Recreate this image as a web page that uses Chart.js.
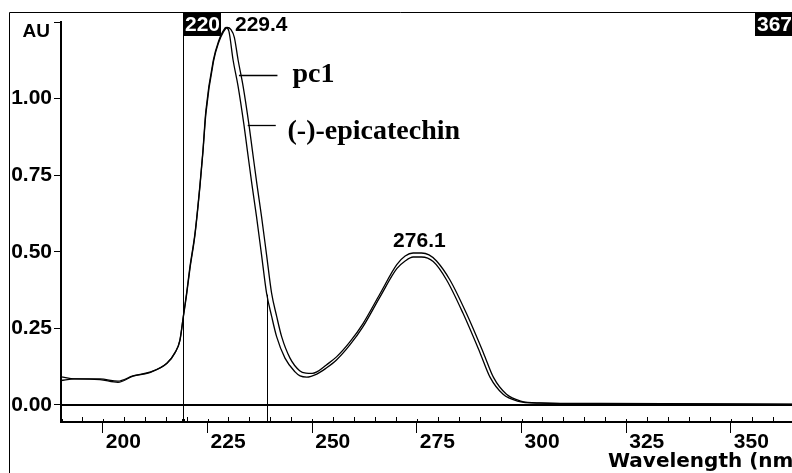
<!DOCTYPE html>
<html><head><meta charset="utf-8">
<script src="https://cdn.jsdelivr.net/npm/chart.js@4.4.1/dist/chart.umd.min.js"></script>
<style>html,body{margin:0;padding:0;background:#fff;overflow:hidden}#wrap{position:relative;width:792px;height:473px}</style>
</head><body><div id="wrap"><canvas id="c" width="792" height="473"></canvas></div>
<script>
// (-)-epicatechin spectrum (inner trace)
const wavelengthA = [190.0,193.3,199.3,203.6,207.2,211.2,215.3,217.2,218.4,219.2,220.0,220.8,222.0,223.2,223.9,224.6,226.4,227.7,228.7,229.4,230.1,231.1,232.3,233.7,234.5,235.6,236.7,237.9,239.1,240.3,241.5,243.5,245.9,247.1,248.7,251.1,253.3,255.8,259.0,262.1,266.2,270.2,272.2,274.1,276.1,278.9,282.1,286.0,290.1,292.5,295.6,299.0,304.4,318.7,364.6];
const absorbanceA = [0.092,0.085,0.085,0.078,0.095,0.107,0.136,0.170,0.212,0.288,0.365,0.451,0.560,0.720,0.830,0.960,1.126,1.190,1.220,1.232,1.220,1.126,1.040,0.914,0.832,0.720,0.615,0.490,0.365,0.290,0.223,0.153,0.108,0.095,0.091,0.101,0.120,0.147,0.196,0.255,0.353,0.445,0.470,0.483,0.483,0.468,0.408,0.300,0.170,0.090,0.035,0.013,0.006,0.004,0.002];
// pc1 spectrum (outer trace)
const wavelengthB = [190.0,193.3,199.3,203.6,207.2,211.2,215.3,217.2,218.4,219.2,220.0,220.8,222.0,223.2,223.9,224.6,226.4,227.7,228.7,229.7,230.6,231.4,232.3,233.5,234.9,235.7,236.8,237.9,239.1,240.3,241.5,242.7,244.7,247.0,248.5,250.0,251.1,253.3,255.8,259.0,262.1,266.2,270.2,272.2,274.1,276.1,277.9,279.7,282.9,286.8,290.9,293.3,296.4,299.8,304.4,318.7,364.6];
const absorbanceB = [0.080,0.085,0.083,0.074,0.094,0.106,0.136,0.170,0.210,0.285,0.360,0.445,0.555,0.715,0.825,0.950,1.120,1.185,1.215,1.232,1.225,1.200,1.126,1.040,0.914,0.832,0.720,0.615,0.490,0.365,0.290,0.223,0.153,0.112,0.104,0.103,0.108,0.130,0.157,0.206,0.265,0.363,0.458,0.486,0.496,0.496,0.490,0.470,0.408,0.300,0.170,0.090,0.035,0.013,0.007,0.005,0.003];

const seriesNames = ['pc1', '(-)-epicatechin'];
const xTickValues = [200, 225, 250, 275, 300, 325, 350];
const yTickValues = [0, 0.25, 0.5, 0.75, 1.0];
const yTickLabels = ['0.00', '0.25', '0.50', '0.75', '1.00'];
const yUnitLabel = 'AU';
const xTitle = 'Wavelength (nm)';
const cursorWavelengths = [219.1, 239.1];
const cursorLabels = ['220', '367'];
const peakWavelengths = [229.4, 276.1];
const peakLabels = ['229.4', '276.1'];

const NUMFONT = 'bold 21px "Liberation Sans", Arial, sans-serif';

const annot = {
  id: 'annot',
  beforeDatasetsDraw(chart) {
    const {ctx, chartArea: a, scales: {x, y}} = chart;
    ctx.save();
    ctx.strokeStyle = '#000';
    ctx.lineWidth = 2;
    const y0 = Math.round(y.getPixelForValue(0));
    ctx.beginPath(); ctx.moveTo(a.left, y0); ctx.lineTo(a.right, y0); ctx.stroke();
    ctx.lineWidth = 1;
    const c1 = Math.round(x.getPixelForValue(cursorWavelengths[0])) + 0.5;
    ctx.beginPath(); ctx.moveTo(c1, 12); ctx.lineTo(c1, a.bottom); ctx.stroke();
    const c2 = Math.round(x.getPixelForValue(cursorWavelengths[1])) + 0.5;
    ctx.beginPath(); ctx.moveTo(c2, y.getPixelForValue(0.36)); ctx.lineTo(c2, a.bottom); ctx.stroke();
    ctx.restore();
  },
  afterDraw(chart) {
    const {ctx, chartArea: a, scales: {x, y}} = chart;
    ctx.save();
    ctx.strokeStyle = '#000';
    ctx.fillStyle = '#000';
    // outer frame
    ctx.lineWidth = 1;
    ctx.beginPath(); ctx.moveTo(9.5, 473); ctx.lineTo(9.5, 12.5); ctx.lineTo(792, 12.5); ctx.stroke();
    // minor / major tick marks inside
    for (let v = 190; v <= 364; v += 5) {
      const px = Math.round(x.getPixelForValue(v)) + 0.5;
      const major = xTickValues.includes(v);
      ctx.beginPath(); ctx.moveTo(px, a.bottom - (major ? 3 : 5)); ctx.lineTo(px, a.bottom); ctx.stroke();
    }
    const c1 = Math.round(x.getPixelForValue(cursorWavelengths[0]));
    ctx.fillRect(a.left - 1, a.bottom - 3, 3, 4);
    ctx.fillRect(c1 - 1, a.bottom - 3, 3, 4);
    // AU
    ctx.font = 'bold 19px "Liberation Sans", Arial, sans-serif';
    ctx.textAlign = 'right'; ctx.textBaseline = 'alphabetic';
    ctx.fillText(yUnitLabel, 50, 37);
    // cursor boxes
    ctx.font = NUMFONT;
    ctx.textAlign = 'left';
    ctx.fillRect(c1, 13, 38, 23);
    ctx.fillRect(a.right - 37, 13, 37, 23);
    ctx.fillStyle = '#fff';
    ctx.fillText(cursorLabels[0], c1 + 2, 31);
    ctx.fillText(cursorLabels[1], a.right - 35, 31);
    ctx.fillStyle = '#000';
    // peak labels
    ctx.fillText(peakLabels[0], x.getPixelForValue(peakWavelengths[0]) + 9, 31);
    ctx.textAlign = 'center';
    ctx.fillText(peakLabels[1], x.getPixelForValue(275.6), y.getPixelForValue(0.515));
    // leader lines + series names
    ctx.lineWidth = 1.3;
    const l1y = Math.round(y.getPixelForValue(1.077)) + 0.5;
    ctx.beginPath(); ctx.moveTo(x.getPixelForValue(232.5), l1y); ctx.lineTo(x.getPixelForValue(241.7), l1y); ctx.stroke();
    const l2y = Math.round(y.getPixelForValue(0.914)) + 0.5;
    ctx.beginPath(); ctx.moveTo(x.getPixelForValue(234.6), l2y); ctx.lineTo(x.getPixelForValue(241.3), l2y); ctx.stroke();
    ctx.font = 'bold 28px "Liberation Serif", "Times New Roman", serif';
    ctx.textAlign = 'left';
    ctx.fillText(seriesNames[0], x.getPixelForValue(245.3), l1y + 6);
    ctx.fillText(seriesNames[1], x.getPixelForValue(244.1), l2y + 13);
    // x title
    ctx.font = 'bold 20px "DejaVu Sans", sans-serif';
    ctx.fillText(xTitle, 608, 467);
    ctx.restore();
  }
};

new Chart(document.getElementById('c'), {
  type: 'line',
  data: {
    datasets: [
      {label: seriesNames[0], data: wavelengthB.map((w, i) => ({x: w, y: absorbanceB[i]})),
       borderColor: '#000', borderWidth: 1.3, pointRadius: 0, cubicInterpolationMode: 'monotone', fill: false},
      {label: seriesNames[1], data: wavelengthA.map((w, i) => ({x: w, y: absorbanceA[i]})),
       borderColor: '#000', borderWidth: 1.3, pointRadius: 0, cubicInterpolationMode: 'monotone', fill: false}
    ]
  },
  options: {
    responsive: false, animation: false, devicePixelRatio: 1,
    layout: {padding: {top: 22, right: 0, left: 0, bottom: 0}},
    plugins: {legend: {display: false}, tooltip: {enabled: false}},
    scales: {
      x: {
        type: 'linear', min: 190, max: 364.6, position: 'bottom',
        afterBuildTicks: s => { s.ticks = xTickValues.map(v => ({value: v})); },
        afterFit: s => { s.height = 51; },
        grid: {drawOnChartArea: false, drawTicks: true, tickLength: 11, color: '#000', tickWidth: 1},
        border: {display: true, color: '#000', width: 2},
        ticks: {align: 'start', labelOffset: 3, padding: -1, color: '#000', maxRotation: 0, autoSkip: false,
                font: {family: '"Liberation Sans", Arial, sans-serif', size: 21, weight: 'bold', lineHeight: 1},
                callback: v => String(v)}
      },
      y: {
        type: 'linear', min: -0.0555, max: 1.25,
        afterBuildTicks: s => { s.ticks = [...yTickValues, 1.25].map(v => ({value: v})); },
        afterFit: s => { s.width = 61; },
        grid: {drawOnChartArea: false, drawTicks: true, tickLength: 7, color: '#000'},
        border: {display: true, color: '#000', width: 2},
        ticks: {padding: 2, color: '#000',
                font: {family: '"Liberation Sans", Arial, sans-serif', size: 21, weight: 'bold', lineHeight: 1},
                callback: v => { const i = yTickValues.indexOf(v); return i >= 0 ? yTickLabels[i] : ''; }}
      }
    }
  },
  plugins: [annot]
});
</script></body></html>
